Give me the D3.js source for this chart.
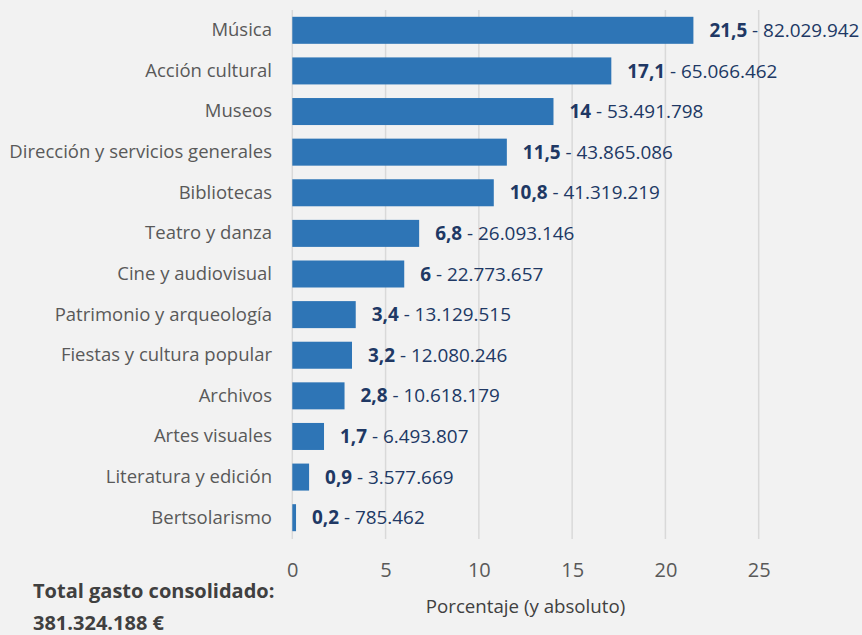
<!DOCTYPE html>
<html><head><meta charset="utf-8">
<script src="https://cdn.jsdelivr.net/npm/d3@7"></script>
<style>
html,body{margin:0;padding:0;background:#f2f2f2;}
svg{display:block;font-family:"Open Sans",sans-serif;}
</style></head>
<body><svg id="c" width="862" height="635"></svg>
<script>
const categories = ["Música","Acción cultural","Museos","Dirección y servicios generales","Bibliotecas","Teatro y danza","Cine y audiovisual","Patrimonio y arqueología","Fiestas y cultura popular","Archivos","Artes visuales","Literatura y edición","Bertsolarismo"];
const percentLabels = ["21,5","17,1","14","11,5","10,8","6,8","6","3,4","3,2","2,8","1,7","0,9","0,2"];
const absoluteLabels = ["82.029.942","65.066.462","53.491.798","43.865.086","41.319.219","26.093.146","22.773.657","13.129.515","12.080.246","10.618.179","6.493.807","3.577.669","785.462"];
const percentValues = [21.5,17.1,14,11.5,10.8,6.8,6,3.4,3.2,2.8,1.7,0.9,0.2];
const xTicks = [0,5,10,15,20,25];
const axisTitle = "Porcentaje (y absoluto)";
const totalLines = ["Total gasto consolidado:","381.324.188 €"];

const svg = d3.select("#c");
const x = d3.scaleLinear().domain([0,25]).range([292.3,758.7]);
const y = d3.scaleBand().domain(categories).range([10,538]).paddingInner(0.335).paddingOuter(0.1675);

// gridlines
svg.append("g").selectAll("line").data(xTicks).join("line")
  .attr("x1",d=>x(d)).attr("x2",d=>x(d)).attr("y1",10).attr("y2",539)
  .attr("stroke","#d9d9d9").attr("stroke-width",1.5);

// bars
svg.append("g").selectAll("rect").data(percentValues).join("rect")
  .attr("x",x(0)).attr("y",(d,i)=>y(categories[i]))
  .attr("width",d=>x(d)-x(0)).attr("height",y.bandwidth())
  .attr("fill","#2e75b6");

// category labels
const yAxis = d3.axisLeft(y).tickSize(0).tickPadding(0);
const ga = svg.append("g").attr("transform","translate(272,0)").call(yAxis);
ga.select(".domain").remove();
ga.selectAll("text").attr("font-size",18.5).attr("fill","#595959").attr("font-family","Open Sans");

// value labels
const vl = svg.append("g").selectAll("text").data(percentValues).join("text")
  .attr("x",d=>x(d)+16).attr("y",(d,i)=>y(categories[i])+y.bandwidth()/2)
  .attr("dy","0.35em").attr("font-size",18.9).attr("fill","#203864");
vl.append("tspan").attr("font-weight","bold").text((d,i)=>percentLabels[i]);
vl.append("tspan").text((d,i)=>" - "+absoluteLabels[i]);

// x axis
const xAxis = d3.axisBottom(x).tickValues(xTicks).tickSize(0).tickPadding(0).tickFormat(d3.format("d"));
const gx = svg.append("g").attr("transform","translate(0,570)").call(xAxis);
gx.select(".domain").remove();
gx.selectAll("text").attr("font-size",20).attr("fill","#595959").attr("font-family","Open Sans").attr("dy","0.35em");

svg.append("text").attr("x",(x(0)+x(25))/2).attr("y",606).attr("dy","0.35em")
  .attr("text-anchor","middle").attr("font-size",18.7).attr("fill","#404040").text(axisTitle);

svg.append("g").selectAll("text").data(totalLines).join("text")
  .attr("x",33).attr("y",(d,i)=>598+i*32)
  .attr("font-size",20).attr("font-weight","bold").attr("fill","#404040").text(d=>d);
</script></body></html>
